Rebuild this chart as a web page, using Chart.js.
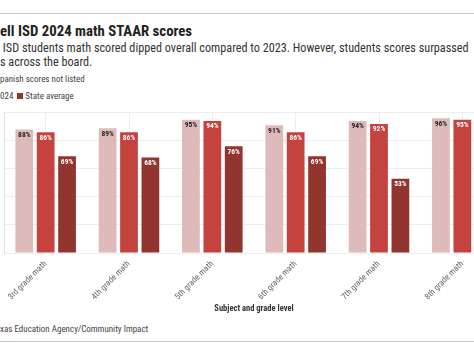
<!DOCTYPE html>
<html><head><meta charset="utf-8">
<script src="https://cdn.jsdelivr.net/npm/chart.js@4/dist/chart.umd.min.js"></script>
<style>
html,body{margin:0;padding:0;width:474px;height:355px;overflow:hidden;background:#fff;}
body{position:relative;font-family:"Roboto Condensed","Liberation Sans Narrow","Arial Narrow","DejaVu Sans Condensed",Roboto,sans-serif;}
.rule{position:absolute;left:0;width:474px;height:1px;background:#c4c4c4;}
.line{position:absolute;white-space:nowrap;}
#title{top:21.5px;font-size:14.8px;line-height:18px;font-weight:bold;color:#222;}
.sub{font-size:12.2px;line-height:14px;color:#333;}
#sub1{top:40.5px;}
#sub2{top:54.5px;}
#note{top:73.5px;font-size:9px;line-height:11px;color:#444;}
#legend{top:90.5px;font-size:9px;line-height:11px;color:#444;}
#source{top:323.5px;font-size:9px;line-height:11px;color:#444;}
.box{display:inline-block;width:6px;height:6px;vertical-align:-0.5px;margin-right:2px;}
.gap{display:inline-block;width:4px;}
#chartWrap{position:absolute;left:-26px;top:100px;width:540px;height:220px;}
</style></head>
<body>
<div class="rule" style="top:13px"></div>
<div class="line" id="title"><span class="cut">Copp</span>ell ISD 2024 math STAAR scores</div>
<div class="line sub" id="sub1"><span class="cut">Coppell</span> ISD students math scored dipped overall compared to 2023. However, students scores surpassed</div>
<div class="line sub" id="sub2"><span class="cut">state average</span>s across the board.</div>
<div class="line" id="note"><span class="cut">Note: S</span>panish scores not listed</div>
<div class="line" id="legend"><span class="cut"><i class="box" id="lb0"></i>2023<span class="gap"></span><i class="box" id="lb1"></i>2</span>024<span class="gap"></span><i class="box" id="lb2"></i>State average</div>
<div id="chartWrap"><canvas id="c" width="540" height="220"></canvas></div>
<div class="line" id="source"><span class="cut">Source: Te</span>xas Education Agency/Community Impact</div>
<div class="rule" style="top:341px"></div>
<script>
const categories = ['3rd grade math','4th grade math','5th grade math','6th grade math','7th grade math','8th grade math'];
const seriesNames = ['2023','2024','State average'];
const isd2023 = [88, 89, 95, 91, 94, 96];
const isd2024 = [86, 86, 94, 86, 92, 95];
const stateAvg = [69, 68, 76, 69, 53, 65];
const yTicks = [0, 20, 40, 60, 80, 100];

const colors = ['#dfbaba', '#c5433e', '#93352f'];
const labelColors = ['#222', '#fff', '#fff'];
const FAM = '"Roboto Condensed","Liberation Sans Narrow","Arial Narrow","DejaVu Sans Condensed",Roboto,sans-serif';

['lb0','lb1','lb2'].forEach((id,i)=>{document.getElementById(id).style.background=colors[i];});
document.querySelectorAll('.line').forEach(el=>{
  const cut = el.querySelector('.cut');
  if (cut) el.style.left = (-cut.getBoundingClientRect().width) + 'px';
});

const barLabels = {
  id: 'barLabels',
  afterDatasetsDraw(chart) {
    const ctx = chart.ctx;
    chart.data.datasets.forEach((ds, i) => {
      const meta = chart.getDatasetMeta(i);
      meta.data.forEach((bar, j) => {
        ctx.save();
        ctx.font = 'bold 7.5px ' + FAM;
        ctx.fillStyle = labelColors[i];
        ctx.textAlign = 'center';
        ctx.textBaseline = 'middle';
        ctx.fillText(ds.data[j] + '%', bar.x, bar.y + 5.5);
        ctx.restore();
      });
    });
  }
};

const seriesData = [isd2023, isd2024, stateAvg];
new Chart(document.getElementById('c'), {
  type: 'bar',
  data: {
    labels: categories,
    datasets: seriesData.map((d, i) => ({
      label: seriesNames[i],
      data: d,
      backgroundColor: colors[i],
      borderWidth: 0,
      categoryPercentage: 0.77,
      barPercentage: 0.83
    }))
  },
  options: {
    responsive: false,
    animation: false,
    devicePixelRatio: 1,
    layout: { padding: { left: 0, right: 10, top: 12.7, bottom: 2.3 } },
    plugins: { legend: { display: false }, tooltip: { enabled: false } },
    scales: {
      x: {
        grid: { color: '#ededed', drawTicks: false, offset: false },
        border: { display: false },
        ticks: { color: '#666', font: { size: 8.5, family: FAM }, minRotation: 45, maxRotation: 45, padding: 6, autoSkip: false },
        title: { display: true, text: 'Subject and grade level', color: '#333', font: { size: 8.5, weight: 'bold', family: FAM }, padding: { top: 4, bottom: 4 } },
        afterFit(a) { a.height = 64.7; }
      },
      y: {
        min: 0, max: 100,
        afterBuildTicks(a) { a.ticks = yTicks.map(v => ({ value: v })); },
        ticks: { display: false, callback: v => v + '%' },
        grid: { color: '#ededed', drawTicks: false },
        border: { display: true, color: '#e2e2e2' },
        afterFit(a) { a.width = 30; }
      }
    }
  },
  plugins: [barLabels]
});
</script>
</body></html>
